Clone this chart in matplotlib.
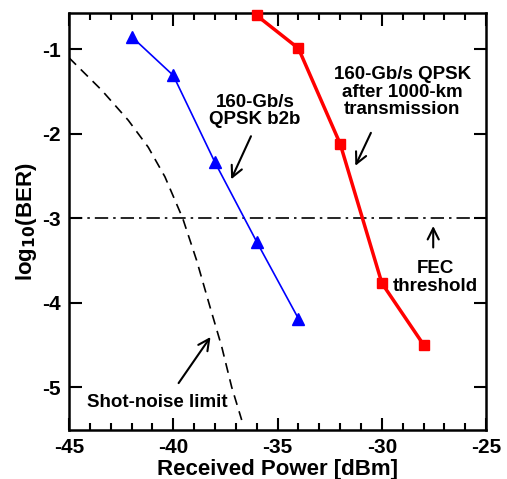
import numpy as np
import matplotlib.pyplot as plt
from matplotlib.ticker import MultipleLocator

plt.rcParams['font.family'] = ['Liberation Sans', 'DejaVu Sans']
plt.rcParams['font.weight'] = 'bold'
plt.rcParams['axes.unicode_minus'] = False
plt.rcParams['mathtext.default'] = 'bf'

# back-to-back 160-Gb/s QPSK
b2b_power = [-42, -40, -38, -36, -34]
b2b_logber = [-0.85, -1.31, -2.34, -3.28, -4.19]

# after 1000-km transmission
tx_power = [-36, -34, -32, -30, -28]
tx_logber = [-0.6, -0.99, -2.12, -3.77, -4.5]

# shot-noise limit
shot_power = [-45, -43.43, -42.16, -41.2, -40.4, -39.55, -38.88, -38.24, -37.68, -37.2, -36.72]
shot_logber = [-1.1, -1.485, -1.84, -2.16, -2.51, -3.0, -3.5, -4.05, -4.52, -5.0, -5.39]

fec_level = -3.0

fig = plt.figure(figsize=(5.07, 4.79), dpi=100)
ax = fig.add_axes([0.136, 0.102, 0.823, 0.871])

ax.plot(shot_power, shot_logber, color='black', linestyle=(0, (6, 4)), linewidth=1.2)
ax.axhline(fec_level, color='black', linestyle=(0, (8, 3, 1.5, 3)), linewidth=1.2)
ax.plot(b2b_power, b2b_logber, color='#0000ff', linewidth=1.2, marker='^',
        markersize=9, clip_on=False, zorder=3)
ax.plot(tx_power, tx_logber, color='#ff0000', linewidth=2.5, marker='s',
        markersize=7.5, clip_on=False, zorder=3)

# text labels and arrows
arrow = dict(arrowstyle='->', color='black', linewidth=1.5, mutation_scale=20)
fs = 13.5
ax.annotate('', xy=(-37.28, -2.57), xytext=(-36.22, -2.0), arrowprops=arrow)
ax.text(-36.08, -1.73, '160-Gb/s\nQPSK b2b', ha='center', va='center',
        fontsize=fs, fontweight='bold', linespacing=1.05)

ax.annotate('', xy=(-31.33, -2.41), xytext=(-30.47, -1.96), arrowprops=arrow)
ax.text(-29.03, -1.51, '160-Gb/s QPSK\nafter 1000-km\ntransmission', ha='center',
        va='center', fontsize=fs, fontweight='bold', linespacing=1.05)

ax.annotate('', xy=(-27.54, -3.06), xytext=(-27.54, -3.38), arrowprops=arrow)
ax.text(-27.45, -3.7, 'FEC\nthreshold', ha='center', va='center',
        fontsize=fs, fontweight='bold', linespacing=1.05)

ax.annotate('', xy=(-38.14, -4.38), xytext=(-39.82, -4.98), arrowprops=arrow)
ax.text(-40.78, -5.18, 'Shot-noise limit', ha='center', va='center',
        fontsize=fs, fontweight='bold')

ax.set_xlim(-45, -25)
ax.set_ylim(-5.51, -0.57)
ax.xaxis.set_major_locator(MultipleLocator(5))
ax.xaxis.set_minor_locator(MultipleLocator(1))
ax.yaxis.set_major_locator(MultipleLocator(1))

ax.tick_params(which='both', direction='in', top=True, right=True, width=1.5,
               labelsize=15, pad=6)
ax.tick_params(which='major', length=9)
ax.tick_params(which='minor', length=5)
for lab in ax.get_xticklabels() + ax.get_yticklabels():
    lab.set_fontweight('bold')
for s in ax.spines.values():
    s.set_linewidth(1.8)

ax.set_xlabel('Received Power [dBm]', fontsize=16, fontweight='bold', labelpad=1)
ax.set_ylabel('log$_{10}$(BER)', fontsize=16, fontweight='bold', labelpad=2)

fig.savefig('out.png', dpi=100)
